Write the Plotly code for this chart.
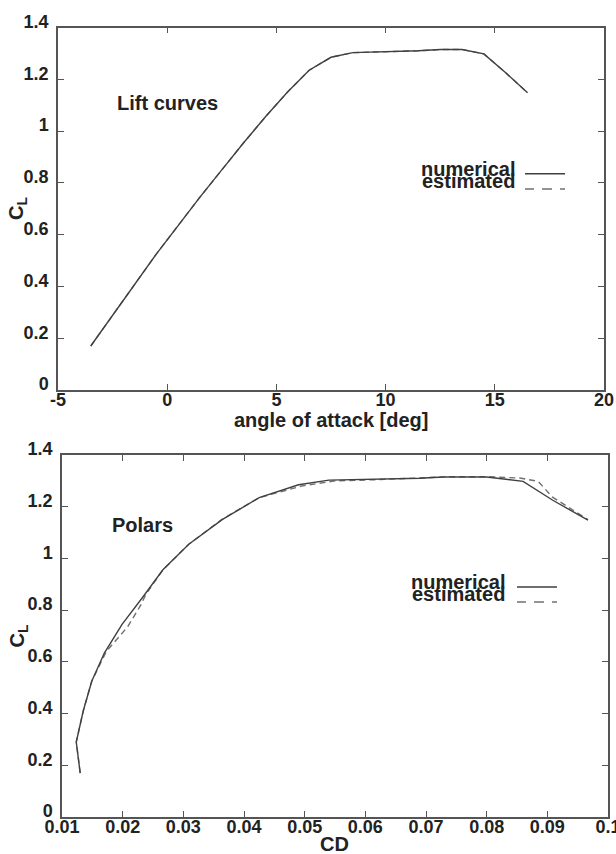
import plotly.graph_objects as go

# ---- data ----
alpha = [-3.5, -2.5, -1.5, -0.5, 0.5, 1.5, 2.5, 3.5, 4.5, 5.5, 6.5,
         7.5, 8.5, 9.5, 10.5, 11.5, 12.5, 13.5, 14.5, 15.5, 16.5]
cl_numerical = [0.17, 0.29, 0.41, 0.525, 0.635, 0.745, 0.85, 0.955, 1.055, 1.15, 1.235,
                1.285, 1.303, 1.305, 1.307, 1.310, 1.315, 1.315, 1.298, 1.225, 1.148]
cl_estimated = [0.17, 0.29, 0.41, 0.525, 0.635, 0.745, 0.85, 0.955, 1.055, 1.15, 1.235,
                1.285, 1.303, 1.305, 1.307, 1.310, 1.315, 1.315, 1.298, 1.225, 1.148]

cd_numerical = [0.0130, 0.01235, 0.0135, 0.0149, 0.0170, 0.0199, 0.0233, 0.0266, 0.0309, 0.0364, 0.0425,
                0.0490, 0.0540, 0.0600, 0.0650, 0.0690, 0.0728, 0.0800, 0.0860, 0.0909, 0.0967]
cd_estimated = [0.0130, 0.01235, 0.0135, 0.0149, 0.0173, 0.0208, 0.0230, 0.0238, 0.0266, 0.0309, 0.0363,
                0.0425, 0.0495, 0.0550, 0.0600, 0.0650, 0.0700, 0.0740, 0.0800, 0.0855, 0.0885, 0.0908, 0.0967]
cl_polar_estimated = [0.17, 0.29, 0.41, 0.525, 0.64, 0.735, 0.82, 0.86, 0.955, 1.055, 1.15,
                      1.235, 1.28, 1.300, 1.303, 1.307, 1.312, 1.316, 1.316, 1.311, 1.298, 1.238, 1.150]

x1_ticks = [-5, 0, 5, 10, 15, 20]
x1_labels = ["-5", "0", "5", "10", "15", "20"]
x2_ticks = [0.01, 0.02, 0.03, 0.04, 0.05, 0.06, 0.07, 0.08, 0.09, 0.1]
x2_labels = ["0.01", "0.02", "0.03", "0.04", "0.05", "0.06", "0.07", "0.08", "0.09", "0.1"]
y_ticks = [0, 0.2, 0.4, 0.6, 0.8, 1.0, 1.2, 1.4]
y_labels = ["0", "0.2", "0.4", "0.6", "0.8", "1", "1.2", "1.4"]

FONT = "Liberation Sans, Arial, Helvetica, sans-serif"
AX = "#555555"
C_NUM = "#404040"
C_EST = "#707070"

fig = go.Figure()
fig.add_trace(go.Scatter(x=alpha, y=cl_estimated, mode="lines", xaxis="x", yaxis="y",
                         line=dict(color=C_EST, width=1.4, dash="6px,4px"), showlegend=False))
fig.add_trace(go.Scatter(x=alpha, y=cl_numerical, mode="lines", xaxis="x", yaxis="y",
                         line=dict(color=C_NUM, width=1.4), showlegend=False))
fig.add_trace(go.Scatter(x=cd_estimated, y=cl_polar_estimated, mode="lines", xaxis="x2", yaxis="y2",
                         line=dict(color=C_EST, width=1.4, dash="6px,4px"), showlegend=False))
fig.add_trace(go.Scatter(x=cd_numerical, y=cl_numerical, mode="lines", xaxis="x2", yaxis="y2",
                         line=dict(color=C_NUM, width=1.4), showlegend=False))

tickfont = dict(family=FONT, size=18, color="#222", weight="bold")
common = dict(showline=True, mirror="ticks", linecolor=AX, linewidth=1.5,
              ticks="inside", ticklen=6, tickcolor=AX, tickwidth=1.2,
              showgrid=False, zeroline=False, tickfont=tickfont, automargin=False,
              ticklabeloverflow="allow")

W, H = 616, 854
def px_x(a, b):
    return [a / W, b / W]
def px_y(top, bottom):
    return [1 - bottom / H, 1 - top / H]

fig.update_layout(
    width=W, height=H, margin=dict(l=0, r=0, t=0, b=0, pad=0, autoexpand=False),
    paper_bgcolor="white", plot_bgcolor="white",
    xaxis=dict(domain=px_x(58, 604), range=[-5, 20], tickvals=x1_ticks, ticktext=x1_labels,
               anchor="y", ticklabelstandoff=-7, **common),
    yaxis=dict(domain=px_y(27.5, 390), range=[0, 1.4], tickvals=y_ticks, ticktext=y_labels,
               anchor="x", ticklabelshift=-6, ticklabelstandoff=4, **common),
    xaxis2=dict(domain=px_x(62, 608), range=[0.01, 0.1], tickvals=x2_ticks, ticktext=x2_labels,
                anchor="y2", ticklabelstandoff=-7, **common),
    yaxis2=dict(domain=px_y(455, 817), range=[0, 1.4], tickvals=y_ticks, ticktext=y_labels,
                anchor="x2", ticklabelshift=-6, ticklabelstandoff=4, **common),
)

lbl = dict(family=FONT, size=20, color="#222", weight="bold")
ann = [
    dict(text="Lift curves", x=115 / W, y=1 - 103 / H, xanchor="left", yanchor="middle"),
    dict(text="Polars", x=110 / W, y=1 - 525 / H, xanchor="left", yanchor="middle"),
    dict(text="angle of attack [deg]", x=331 / W, y=1 - 420 / H, xanchor="center", yanchor="middle"),
    dict(text="CD", x=335 / W, y=1 - 844 / H, xanchor="center", yanchor="middle"),
    dict(text="C<sub>L</sub>", x=17.5 / W, y=1 - 208.5 / H, xanchor="center", yanchor="middle", textangle=-90),
    dict(text="C<sub>L</sub>", x=17.5 / W, y=1 - 636 / H, xanchor="center", yanchor="middle", textangle=-90),
    dict(text="numerical", x=517 / W, y=1 - 169 / H, xanchor="right", yanchor="middle"),
    dict(text="estimated", x=517 / W, y=1 - 181 / H, xanchor="right", yanchor="middle"),
    dict(text="numerical", x=507 / W, y=1 - 582 / H, xanchor="right", yanchor="middle"),
    dict(text="estimated", x=507 / W, y=1 - 594 / H, xanchor="right", yanchor="middle"),
]
fig.update_layout(annotations=[dict(a, xref="paper", yref="paper", showarrow=False, font=lbl) for a in ann])

shapes = [
    dict(xref="x domain", yref="y domain", x0=0.8553, x1=0.9286, y0=0.5967, y1=0.5967,
         line=dict(color=C_NUM, width=1.4)),
    dict(xref="x domain", yref="y domain", x0=0.8553, x1=0.9286, y0=0.5545, y1=0.5545,
         line=dict(color=C_EST, width=1.4, dash="dash")),
    dict(xref="x2 domain", yref="y2 domain", x0=0.8333, x1=0.9066, y0=0.6354, y1=0.6354,
         line=dict(color=C_NUM, width=1.4)),
    dict(xref="x2 domain", yref="y2 domain", x0=0.8333, x1=0.9066, y0=0.5939, y1=0.5939,
         line=dict(color=C_EST, width=1.4, dash="dash")),
]
fig.update_layout(shapes=shapes)

fig.write_html("out.html")
